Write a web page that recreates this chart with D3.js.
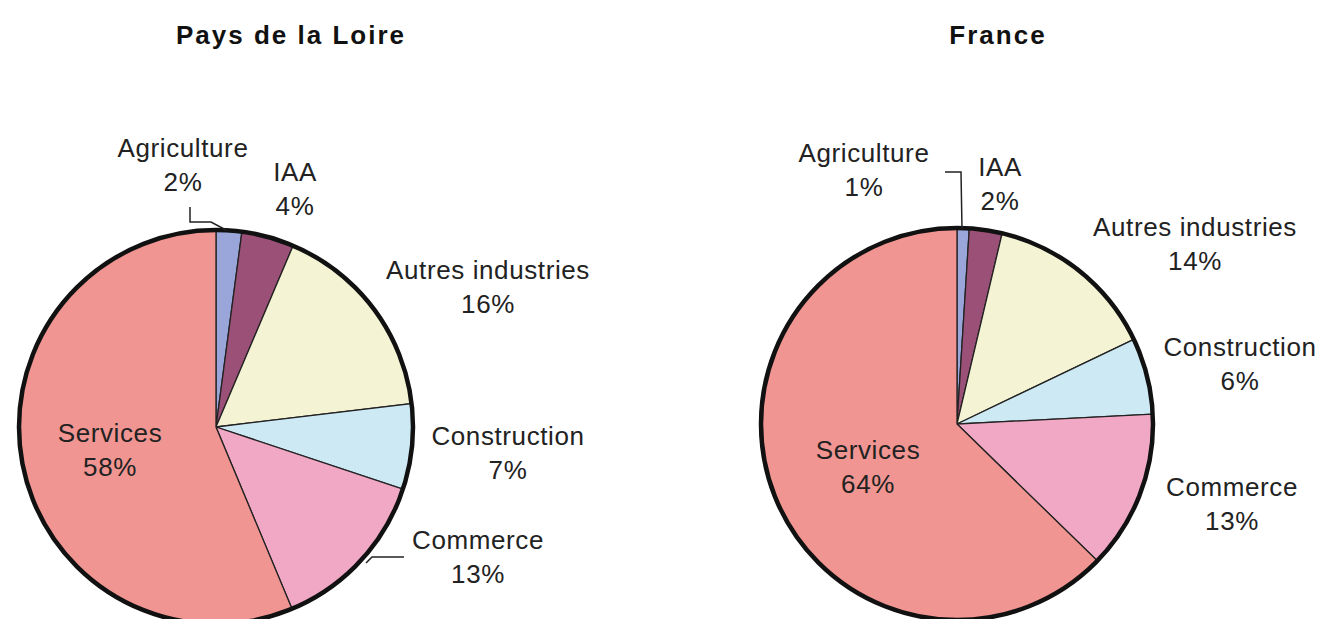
<!DOCTYPE html>
<html>
<head>
<meta charset="utf-8">
<script src="https://cdn.jsdelivr.net/npm/d3@7"></script>
<style>
  body { margin: 0; background: #fff; }
  svg { display: block; }
  .title { font-family: "Liberation Sans", Arial, sans-serif; font-weight: bold; font-size: 26px; letter-spacing: 2px; fill: #111; }
  .lbl { font-family: "Liberation Sans", Arial, sans-serif; font-size: 26px; letter-spacing: 0.6px; fill: #222; }
</style>
</head>
<body>
<svg id="chart"></svg>
<script>
// sectors, in the order drawn clockwise from 12 o'clock
const sectors = ['Agriculture', 'IAA', 'Autres industries', 'Construction', 'Commerce', 'Services'];
const sectorColors = ['#9aa6da', '#9b5077', '#f4f3d3', '#cde9f4', '#f0a8c4', '#f09591'];

const paysShares = [2.1, 4.3, 16.7, 7.0, 13.6, 56.3];
const franceShares = [1.0, 2.7, 14.2, 6.3, 13.1, 62.7];

// percentages as printed on the picture
const paysPct = ['2%', '4%', '16%', '7%', '13%', '58%'];
const francePct = ['1%', '2%', '14%', '6%', '13%', '64%'];

const titles = ['Pays de la Loire', 'France'];

const width = 1319, height = 619;

const svg = d3.select('#chart')
    .attr('width', width)
    .attr('height', height);

// layout of each pie: centre, radius, title position, label offsets (relative to centre)
const pies = [
  {
    title: titles[0], shares: paysShares, pct: paysPct,
    cx: 216, cy: 427, r: 197, titleX: 291, titleY: 44,
    labels: [[-33, -279], [79, -255], [272, -157], [292, 9], [262, 113], [-106, 6]],
    leaders: [
      [[-26, -220], [-26, -205], [-5, -205], [10, -197]],
      null, null, null,
      [[150, 136], [156, 130], [188, 130]],
      null
    ]
  },
  {
    title: titles[1], shares: franceShares, pct: francePct,
    cx: 957, cy: 424, r: 196, titleX: 998, titleY: 44,
    labels: [[-93, -271], [43, -257], [238, -197], [283, -77], [275, 63], [-89, 26]],
    leaders: [
      [[-12, -252], [4, -252], [5, -195]],
      null, null, null, null, null
    ]
  }
];

const pie = d3.pie().sort(null).value(d => d.share);
const lineSpacing = 34;

pies.forEach(p => {
  const data = sectors.map((s, i) => ({ sector: s, share: p.shares[i], pct: p.pct[i], color: sectorColors[i] }));
  const arc = d3.arc().innerRadius(0).outerRadius(p.r);

  svg.append('text')
      .attr('class', 'title')
      .attr('x', p.titleX)
      .attr('y', p.titleY)
      .attr('text-anchor', 'middle')
      .text(p.title);

  const g = svg.append('g')
      .attr('transform', `translate(${p.cx},${p.cy})`);

  g.selectAll('.slice')
      .data(pie(data))
    .join('path')
      .attr('class', 'slice')
      .attr('d', arc)
      .attr('fill', d => d.data.color)
      .attr('stroke', '#222')
      .attr('stroke-width', 1.3);

  // thick outer rim
  g.append('circle')
      .attr('r', p.r)
      .attr('fill', 'none')
      .attr('stroke', '#111')
      .attr('stroke-width', 4.5);

  // leader lines
  const line = d3.line();
  p.leaders.forEach(pts => {
    if (!pts) return;
    g.append('path')
        .attr('d', line(pts))
        .attr('fill', 'none')
        .attr('stroke', '#222')
        .attr('stroke-width', 1.5);
  });

  // two-line labels: sector name, then percentage
  const lbl = g.selectAll('.lbl')
      .data(data)
    .join('text')
      .attr('class', 'lbl')
      .attr('text-anchor', 'middle')
      .attr('transform', (d, i) => `translate(${p.labels[i][0]},${p.labels[i][1]})`);

  lbl.append('tspan')
      .attr('x', 0)
      .attr('y', 9)
      .text(d => d.sector);

  lbl.append('tspan')
      .attr('x', 0)
      .attr('y', 9 + lineSpacing)
      .text(d => d.pct);
});
</script>
</body>
</html>
